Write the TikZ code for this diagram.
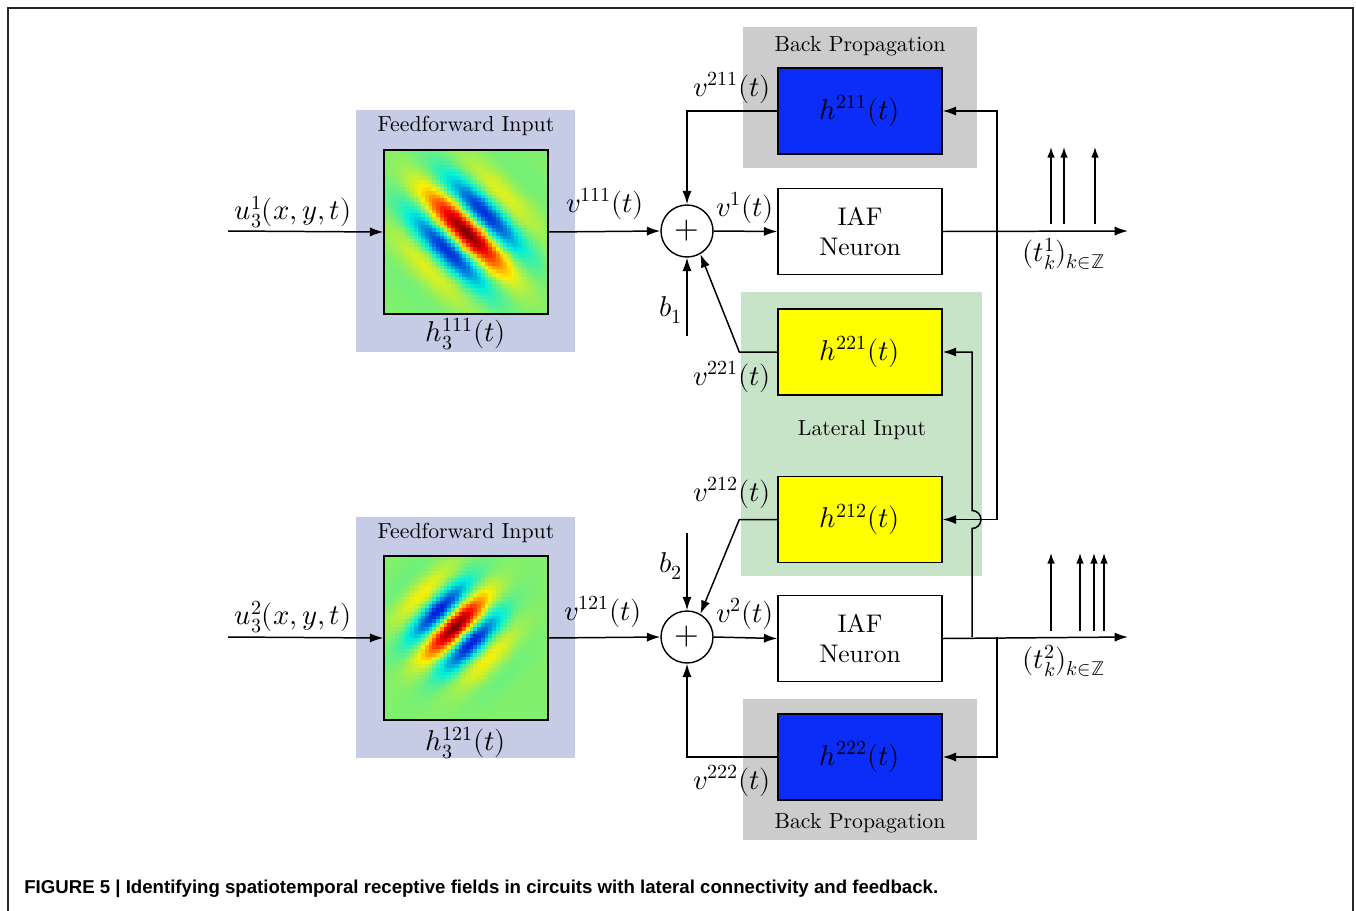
\documentclass[tikz,border=0pt]{standalone}
\usepackage{amsmath}
\usepackage{fontspec}
\usepackage{unicode-math}
\setmainfont{lmroman10-regular.otf}[BoldFont=lmroman10-bold.otf, ItalicFont=lmroman10-italic.otf]
\setmathfont{latinmodern-math.otf}
\usepackage{tikz}
\usetikzlibrary{arrows.meta, calc, positioning}
\usepackage{xcolor}
\newfontfamily\capfont{Liberation Sans}
\definecolor{ffbg}{RGB}{198,204,230}
\definecolor{bpbg}{RGB}{204,204,204}
\definecolor{latbg}{RGB}{200,228,200}
\definecolor{hblue}{RGB}{12,44,247}
\definecolor{hyell}{RGB}{255,255,0}
\newcommand{\mfont}{\fontsize{16.3}{19}\selectfont}
% receptive field patch: #1,#2 top-left; #3,#4 centre offset; #5 tilt (+1/-1); #6,#7 sigmas; #8 wavelength
\newcommand{\gabor}[8]{%
  \foreach \i in {0,...,43}{
    \foreach \j in {0,...,43}{
      \edef\gbu{\fpeval{((\i+0.5)*164/44-82-(#3) + (#5)*((\j+0.5)*164/44-82-(#4)))/sqrt(2)}}
      \edef\gbw{\fpeval{((\i+0.5)*164/44-82-(#3) - (#5)*((\j+0.5)*164/44-82-(#4)))/sqrt(2)}}
      \edef\gbv{\fpeval{exp(-(\gbu)^2/(2*(#6)^2)-(\gbw)^2/(2*(#7)^2))*cosd(360*(\gbw)/(#8))}}
      \edef\gbr{\fpeval{round(max(0,min(1,1.5-abs(2*(\gbv)-1))),3)}}
      \edef\gbg{\fpeval{round(0.94*max(0,min(1,1.5-abs(2*(\gbv)))),3)}}
      \edef\gbb{\fpeval{round(0.86*max(0,min(1,1.5-abs(2*(\gbv)+1))),3)}}
      \definecolor{gbcol}{rgb}{\gbr,\gbg,\gbb}
      \fill[gbcol] ({#1+\i*164/44},{#2+\j*164/44}) rectangle ++(4.1,4.1);
    }
  }
}
\tikzset{
  ffbox/.style  ={fill=ffbg, minimum width=4.38cm, minimum height=4.84cm, inner sep=0pt},
  bpbox/.style  ={fill=bpbg, minimum width=4.68cm, minimum height=2.82cm, inner sep=0pt},
  latbox/.style ={fill=latbg, minimum width=4.82cm, minimum height=5.68cm, inner sep=0pt},
  imgbox/.style ={draw, line width=0.8pt, minimum size=3.28cm, inner sep=0pt},
  blk/.style    ={draw, line width=0.8pt, minimum width=3.28cm, minimum height=1.72cm, inner sep=0pt, font=\mfont},
  iaf/.style    ={blk, fill=white, align=center, font=\fontsize{14.5}{17}\selectfont},
  sum/.style    ={draw, circle, line width=0.8pt, minimum size=1.04cm, inner sep=0pt, fill=white, font=\fontsize{18}{20}\selectfont},
  grp/.style    ={font=\fontsize{12.4}{15}\selectfont},
  lbl/.style    ={font=\mfont, inner sep=0pt},
  arr/.style    ={-{Latex[length=7.6pt,width=5.2pt]}, line width=0.85pt},    % signal flow
  spk/.style    ={-{Latex[length=6pt,width=4.3pt]}, line width=0.85pt},      % spikes
  frm/.style    ={line width=0.6pt, black!85},
}
\begin{document}
\begin{tikzpicture}[x=0.02cm, y=-0.02cm]
  \useasboundingbox (0,0) rectangle (1356,910);
  \draw[frm] (8,912) -- (8,8) -- (1353,8) -- (1353,912);
  % shaded groups
  \node[ffbox]  (ff1) at (465.5,231)   {};
  \node[ffbox]  (ff2) at (465.5,637.5) {};
  \node[bpbox]  (bp1) at (860,97.5)    {};
  \node[bpbox]  (bp2) at (860,769.5)   {};
  \node[latbox] (lat) at (861.5,434)   {};
  \node[grp] at (466,126) {Feedforward Input};
  \node[grp] at (466,533) {Feedforward Input};
  \node[grp] at (860,46)  {Back Propagation};
  \node[grp] at (860,823) {Back Propagation};
  \node[grp] at (862,430) {Lateral Input};
  % receptive fields
  \gabor{384}{150}{0}{0}{1}{38}{30}{58}
  \gabor{384}{556}{-11}{-11}{-1}{29}{28}{50}
  \node[imgbox] (img1) at (466,232) {};
  \node[imgbox] (img2) at (466,638) {};
  \node[lbl] at (466,334) {$h_3^{111}(t)$};
  \node[lbl] at (466,743) {$h_3^{121}(t)$};
  % blocks
  \node[blk, fill=hblue] (h211) at (860,111)   {$h^{211}(t)$};
  \node[iaf]             (iaf1) at (860,231.5) {IAF\\Neuron};
  \node[blk, fill=hyell] (h221) at (860,352)   {$h^{221}(t)$};
  \node[blk, fill=hyell] (h212) at (860,519.5) {$h^{212}(t)$};
  \node[iaf]             (iaf2) at (860,638.5) {IAF\\Neuron};
  \node[blk, fill=hblue] (h222) at (860,757)   {$h^{222}(t)$};
  \node[sum] (sum1) at (687,231) {$+$};
  \node[sum] (sum2) at (687,637) {$+$};
  % free ends
  \coordinate (in1)  at (228,231);
  \coordinate (in2)  at (228,637);
  \coordinate (out1) at (1128,231);
  \coordinate (out2) at (1128,637);
  \coordinate (b1)   at (687,336);
  \coordinate (b2)   at (687,533);
  \coordinate (fb1)  at (997,231);
  \coordinate (fb2)  at (972,637);
  \coordinate (fb3)  at (997,637);
  % neuron 1
  \draw[arr] (in1) -- (img1.west);
  \draw[arr] (img1.east) -- (sum1.west);
  \draw[arr] (sum1.east) -- (iaf1.west);
  \draw[arr] (iaf1.east) -- (out1);
  \draw[arr] (b1) -- (sum1.south);
  \draw[arr] (h211.west) -| (sum1.north);
  \draw[arr] (h221.west) -- ++(-38,0) -- (sum1.-60);
  \draw[arr] (fb1) |- (h211.east);
  \draw[arr] (fb1) |- (h212.east);
  % neuron 2
  \draw[arr] (in2) -- (img2.west);
  \draw[arr] (img2.east) -- (sum2.west);
  \draw[arr] (sum2.east) -- (iaf2.west);
  \draw[arr] (iaf2.east) -- (out2);
  \draw[arr] (b2) -- (sum2.north);
  \draw[arr] (h222.west) -| (sum2.south);
  \draw[arr] (h212.west) -- ++(-38,0) -- (sum2.60);
  \draw[arr] (fb2) -- ($(fb2 |- h212.east)+(0,9)$)
             arc[start angle=-90, end angle=90, radius=0.18cm] |- (h221.east);
  \draw[arr] (fb3) |- (h222.east);
  % spike trains
  \foreach \sx [count=\k] in {1051,1064,1095}{
    \coordinate (s1b\k) at (\sx,224);
    \coordinate (s1t\k) at (\sx,147);
    \draw[spk] (s1b\k) -- (s1t\k);
  }
  \foreach \sx [count=\k] in {1051,1080,1094,1104}{
    \coordinate (s2b\k) at (\sx,631);
    \coordinate (s2t\k) at (\sx,553);
    \draw[spk] (s2b\k) -- (s2t\k);
  }
  % signal labels
  \node[lbl] at (293,212)  {$u_3^1(x,y,t)$};
  \node[lbl] at (293,617)  {$u_3^2(x,y,t)$};
  \node[lbl] at (605,204)  {$v^{111}(t)$};
  \node[lbl] at (603,612)  {$v^{121}(t)$};
  \node[lbl] at (745,208)  {$v^1(t)$};
  \node[lbl] at (745,614)  {$v^2(t)$};
  \node[lbl] at (732,88)   {$v^{211}(t)$};
  \node[lbl] at (732,377)  {$v^{221}(t)$};
  \node[lbl] at (732,493)  {$v^{212}(t)$};
  \node[lbl] at (732,781)  {$v^{222}(t)$};
  \node[lbl] at (671,310)  {$b_1$};
  \node[lbl] at (671,566)  {$b_2$};
  \node[lbl] at (1064,254) {$(t_k^1)_{k\in\mathbb{Z}}$};
  \node[lbl] at (1064,661) {$(t_k^2)_{k\in\mathbb{Z}}$};
  % caption
  \node[anchor=west, inner sep=0pt, font=\capfont\bfseries\fontsize{10.6}{12}\selectfont] (cap) at (24,889)
    {FIGURE 5 | Identifying spatiotemporal receptive fields in circuits with lateral connectivity and feedback.};
\end{tikzpicture}
\end{document}
